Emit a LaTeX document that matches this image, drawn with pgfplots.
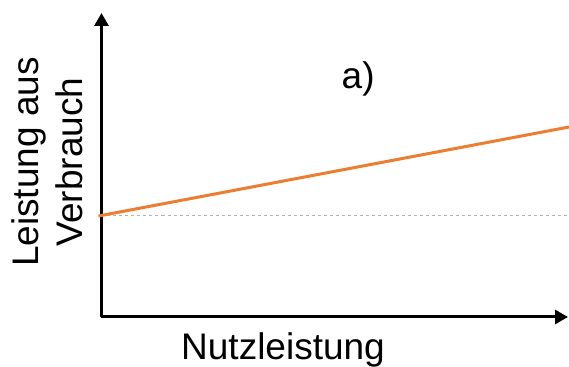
\documentclass[border=0pt]{standalone}
\usepackage{fontspec}
\setmainfont{Liberation Sans}
\usepackage{pgfplots}
\pgfplotsset{compat=1.18}
\usetikzlibrary{arrows.meta}
\definecolor{orangeline}{HTML}{ED7D31}
\begin{document}
\begin{tikzpicture}
\begin{axis}[
  name=ax,
  scale only axis,
  width=466.5pt, height=304pt,
  xmin=0, xmax=466.5, ymin=0, ymax=304,
  axis lines=left,
  axis line style={line width=3pt},
  x axis line style={-{Triangle[length=13pt,width=14pt]}},
  y axis line style={-{Triangle[length=13pt,width=14pt]}},
  xtick=\empty, ytick=\empty,
  clip=false,
  font=\fontsize{37}{44}\selectfont,
]
\addplot[gray!60, dashed, line width=1pt] coordinates {(0,101) (467.5,101)};
\addplot[orangeline, line width=3pt] coordinates {(-3,101) (467.5,190)};
\node[anchor=base west, inner sep=0pt] at (axis cs:240,228) {a)};
\node[anchor=base, inner sep=0pt] at (axis cs:181.5,-42) {Nutzleistung};
\node[rotate=90, align=center, inner sep=0pt, font=\fontsize{37}{44}\selectfont] at (axis cs:-54.5,155) {Leistung aus\\Verbrauch};
\end{axis}
\pgfresetboundingbox
\path ([shift={(-101.5pt,-49pt)}]ax.south west) rectangle ([shift={(467.5pt,317pt)}]ax.south west);
\end{tikzpicture}
\end{document}
